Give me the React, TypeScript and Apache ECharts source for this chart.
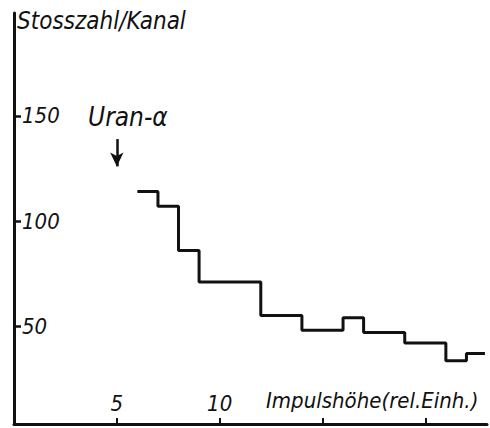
import React, { useEffect, useRef } from "react";
import * as echarts from "echarts";

const binEdges = [6, 7, 8, 9, 12, 14, 16, 17, 19, 21, 22, 22.9];
const counts = [114, 107, 86, 71, 55, 48, 54, 47, 42, 33.5, 37];
const xTicks = [5, 10, 15, 20];
const xTickLabels = [5, 10];
const yTicks = [50, 100, 150];
const arrowAt = 5;
const arrowFrom = 139;
const arrowTo = 126;

const FONT = "'DejaVu Sans Condensed', 'DejaVu Sans', sans-serif";
const INK = "#111";

export default function App() {
  const ref = useRef<HTMLDivElement>(null);
  useEffect(() => {
    if (!ref.current) return;
    const chart = echarts.init(ref.current, undefined, { renderer: "svg" });
    const data: [number, number][] = [];
    for (let i = 0; i < counts.length; i++) data.push([binEdges[i], counts[i]]);
    data.push([binEdges[binEdges.length - 1], counts[counts.length - 1]]);

    const labelStyle = {
      color: INK,
      fontFamily: FONT,
      fontStyle: "italic" as const,
      fontSize: 22,
    };

    chart.setOption({
      animation: false,
      backgroundColor: "#fff",
      grid: { left: 14, right: 3, top: 13, bottom: 4 },
      xAxis: {
        type: "value",
        min: 0,
        max: 23,
        splitLine: { show: false },
        axisLine: { show: true, lineStyle: { color: INK, width: 3 } },
        axisTick: {
          show: true,
          inside: true,
          length: 6,
          customValues: xTicks,
          lineStyle: { color: INK, width: 2 },
        },
        axisLabel: {
          show: true,
          inside: true,
          margin: 10,
          customValues: xTickLabels,
          ...labelStyle,
        },
      },
      yAxis: {
        type: "value",
        min: 3.4,
        max: 199,
        splitLine: { show: false },
        axisLine: { show: true, lineStyle: { color: INK, width: 3 } },
        axisTick: {
          show: true,
          inside: true,
          length: 7,
          customValues: yTicks,
          lineStyle: { color: INK, width: 2.5 },
        },
        axisLabel: {
          show: true,
          inside: true,
          margin: 8,
          padding: [5, 0, 0, 0],
          customValues: yTicks,
          ...labelStyle,
        },
      },
      graphic: [
        {
          type: "text",
          left: 17,
          top: 9,
          style: { text: "Stosszahl/Kanal", fill: INK, font: `italic 24px ${FONT}` },
        },
        {
          type: "text",
          left: 88,
          top: 104,
          style: { text: "Uran-α", fill: INK, font: `italic 26px ${FONT}` },
        },
        {
          type: "text",
          left: 266,
          top: 389,
          style: { text: "Impulshöhe(rel.Einh.)", fill: INK, font: `italic 22px ${FONT}` },
        },
      ],
      series: [
        {
          type: "line",
          step: "end",
          data,
          symbol: "none",
          lineStyle: { color: INK, width: 3 },
          markLine: {
            silent: true,
            symbol: ["none", "arrow"],
            symbolSize: [10, 14],
            label: { show: false },
            lineStyle: { color: INK, width: 2.5, type: "solid" },
            data: [
              [
                { coord: [arrowAt, arrowFrom] },
                { coord: [arrowAt, arrowTo] },
              ],
            ],
          },
        },
      ],
    });
    return () => chart.dispose();
  }, []);
  return (
    <div
      ref={ref}
      style={{ position: "fixed", left: 0, top: 0, width: 490, height: 428 }}
    />
  );
}
